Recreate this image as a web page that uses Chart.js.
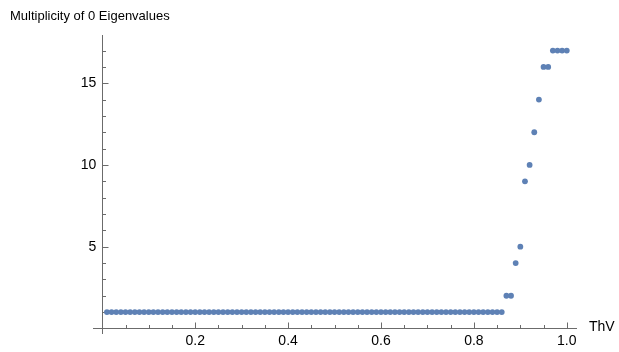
<!DOCTYPE html>
<html>
<head>
<meta charset="utf-8">
<script src="https://cdn.jsdelivr.net/npm/chart.js@4/dist/chart.umd.min.js"></script>
<style>
  html, body { margin: 0; padding: 0; background: #fff; }
  #wrap { width: 619px; height: 352px; }
</style>
</head>
<body>
<div id="wrap"><canvas id="chart" width="619" height="352"></canvas></div>
<script>
// ThV values (x) and multiplicity of 0 eigenvalues (y)
const thv = [
  0.01, 0.02, 0.03, 0.04, 0.05, 0.06, 0.07, 0.08, 0.09, 0.10,
  0.11, 0.12, 0.13, 0.14, 0.15, 0.16, 0.17, 0.18, 0.19, 0.20,
  0.21, 0.22, 0.23, 0.24, 0.25, 0.26, 0.27, 0.28, 0.29, 0.30,
  0.31, 0.32, 0.33, 0.34, 0.35, 0.36, 0.37, 0.38, 0.39, 0.40,
  0.41, 0.42, 0.43, 0.44, 0.45, 0.46, 0.47, 0.48, 0.49, 0.50,
  0.51, 0.52, 0.53, 0.54, 0.55, 0.56, 0.57, 0.58, 0.59, 0.60,
  0.61, 0.62, 0.63, 0.64, 0.65, 0.66, 0.67, 0.68, 0.69, 0.70,
  0.71, 0.72, 0.73, 0.74, 0.75, 0.76, 0.77, 0.78, 0.79, 0.80,
  0.81, 0.82, 0.83, 0.84, 0.85, 0.86, 0.87, 0.88, 0.89, 0.90,
  0.91, 0.92, 0.93, 0.94, 0.95, 0.96, 0.97, 0.98, 0.99, 1.00
];
const multiplicity = [
  1, 1, 1, 1, 1, 1, 1, 1, 1, 1,
  1, 1, 1, 1, 1, 1, 1, 1, 1, 1,
  1, 1, 1, 1, 1, 1, 1, 1, 1, 1,
  1, 1, 1, 1, 1, 1, 1, 1, 1, 1,
  1, 1, 1, 1, 1, 1, 1, 1, 1, 1,
  1, 1, 1, 1, 1, 1, 1, 1, 1, 1,
  1, 1, 1, 1, 1, 1, 1, 1, 1, 1,
  1, 1, 1, 1, 1, 1, 1, 1, 1, 1,
  1, 1, 1, 1, 1, 1, 2, 2, 4, 5,
  9, 10, 12, 14, 16, 16, 17, 17, 17, 17
];
const xTickLabels = ['0.2', '0.4', '0.6', '0.8', '1.0'];
const yTickLabels = ['5', '10', '15'];
const xLabel = 'ThV';
const yLabel = 'Multiplicity of 0 Eigenvalues';

const AXIS = '#6b6b6b';
const FONT = '14px "Liberation Sans", Arial, sans-serif';

// Mathematica style axes crossing at the origin, ticks pointing inward
const axesPlugin = {
  id: 'mmaAxes',
  beforeDatasetsDraw(chart) {
    const { ctx, chartArea: a, scales: { x, y } } = chart;
    const x0 = Math.round(x.getPixelForValue(0)) + 0.5;
    const y0 = Math.round(y.getPixelForValue(0)) + 0.5;
    ctx.save();
    ctx.strokeStyle = AXIS;
    ctx.lineWidth = 1;
    ctx.beginPath();
    ctx.moveTo(a.left, y0); ctx.lineTo(a.right, y0);
    ctx.moveTo(x0, a.top); ctx.lineTo(x0, a.bottom);
    // x ticks
    for (let i = 1; i <= 20; i++) {
      const v = i * 0.05;
      const px = Math.round(x.getPixelForValue(v)) + 0.5;
      const len = i % 4 === 0 ? 6 : 3.5;
      ctx.moveTo(px, y0); ctx.lineTo(px, y0 - len);
    }
    // y ticks
    for (let v = 1; v <= 17; v++) {
      const py = Math.round(y.getPixelForValue(v)) + 0.5;
      const len = v % 5 === 0 ? 6 : 3.5;
      ctx.moveTo(x0, py); ctx.lineTo(x0 + len, py);
    }
    ctx.stroke();
    ctx.restore();
  },
  afterDraw(chart) {
    const { ctx, chartArea: a, scales: { x, y } } = chart;
    const x0 = x.getPixelForValue(0);
    const y0 = y.getPixelForValue(0);
    ctx.save();
    ctx.fillStyle = '#000';
    ctx.font = FONT;
    ctx.textAlign = 'center';
    ctx.textBaseline = 'top';
    xTickLabels.forEach(t => ctx.fillText(t, x.getPixelForValue(parseFloat(t)), y0 + 6));
    ctx.textAlign = 'right';
    ctx.textBaseline = 'middle';
    yTickLabels.forEach(t => ctx.fillText(t, x0 - 6, y.getPixelForValue(parseFloat(t))));
    ctx.textAlign = 'left';
    ctx.fillText(xLabel, a.right + 12, y0 - 1);
    ctx.font = '13px "Liberation Sans", Arial, sans-serif';
    ctx.fillText(yLabel, 10, 16);
    ctx.restore();
  }
};

new Chart(document.getElementById('chart').getContext('2d'), {
  type: 'scatter',
  data: {
    datasets: [{
      data: thv.map((v, i) => ({ x: v, y: multiplicity[i] })),
      backgroundColor: '#5e81b5',
      borderWidth: 0,
      pointRadius: 2.9
    }]
  },
  options: {
    responsive: false,
    animation: false,
    layout: { padding: { left: 93, right: 42, top: 35, bottom: 18 } },
    plugins: { legend: { display: false }, tooltip: { enabled: false } },
    scales: {
      x: { type: 'linear', min: -0.02, max: 1.022, display: false },
      y: { type: 'linear', min: -0.34, max: 17.95, display: false }
    }
  },
  plugins: [axesPlugin]
});
</script>
</body>
</html>
